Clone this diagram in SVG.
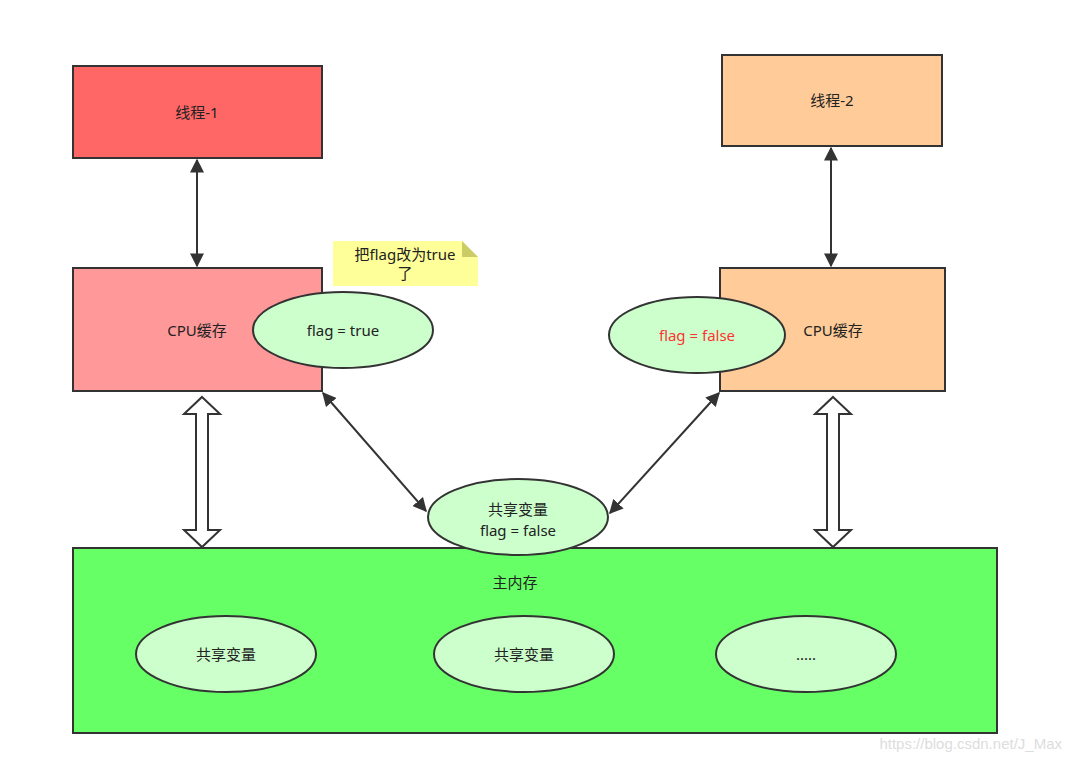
<svg xmlns="http://www.w3.org/2000/svg" width="1072" height="767" viewBox="0 0 1072 767">
<style>
.b{stroke:#333;stroke-width:2}
.e{fill:#ccffcc;stroke:#333;stroke-width:2}
.t{font-family:"Noto Sans","Noto Sans CJK SC",sans-serif;font-size:15px;fill:#222;text-anchor:middle;dominant-baseline:central}
.c{stroke:#333;stroke-width:2;fill:none}
.h{fill:#fff;stroke:#333;stroke-width:2}
</style>
<defs>
<marker id="a" viewBox="0 0 10 10" refX="9" refY="5" markerWidth="7" markerHeight="7" orient="auto-start-reverse"><path d="M0,0 L10,5 L0,10 Z" fill="#333"/></marker>
</defs>
<rect width="1072" height="767" fill="#fff"/>
<g id="main"><rect x="73" y="548" width="924" height="185" fill="#66ff66" class="b"/><text class="t" x="515" y="582">主内存</text></g>
<g id="t1"><rect x="73" y="66" width="249" height="92" fill="#ff6666" class="b"/><text class="t" x="197" y="112">线程-1</text></g>
<g id="t2"><rect x="722" y="55" width="220" height="91" fill="#ffcc99" class="b"/><text class="t" x="832" y="100">线程-2</text></g>
<g id="c1"><rect x="73" y="268" width="249" height="123" fill="#ff9999" class="b"/><text class="t" x="197" y="330" fill="#333">CPU缓存</text></g>
<g id="c2"><rect x="720" y="268" width="225" height="123" fill="#ffcc99" class="b"/><text class="t" x="833" y="330">CPU缓存</text></g>
<g id="note"><path d="M333,241 H462 L478,257 V286 H333 Z" fill="#ffff99"/><path d="M462,241 V257 H478 Z" fill="#cccc66"/><text class="t" x="405" y="254">把flag改为true</text><text class="t" x="405" y="273">了</text></g>
<g id="f1"><ellipse cx="343" cy="330" rx="90" ry="38" class="e"/><text class="t" x="343" y="330">flag = true</text></g>
<g id="f2"><ellipse cx="697" cy="335" rx="88" ry="38" class="e"/><text class="t" x="697" y="335" style="fill:#ff3333">flag = false</text></g>
<g id="s"><ellipse cx="518" cy="517" rx="90" ry="38" class="e"/><text class="t" x="518" y="509">共享变量</text><text class="t" x="518" y="530">flag = false</text></g>
<g id="m1"><ellipse cx="226" cy="654" rx="90" ry="38" class="e"/><text class="t" x="226" y="654">共享变量</text></g>
<g id="m2"><ellipse cx="524" cy="654" rx="90" ry="38" class="e"/><text class="t" x="524" y="654">共享变量</text></g>
<g id="m3"><ellipse cx="806" cy="654" rx="90" ry="38" class="e"/><text class="t" x="806" y="654">.....</text></g>
<g id="connectors">
<line x1="197" y1="160" x2="197" y2="266" class="c" marker-start="url(#a)" marker-end="url(#a)"/>
<line x1="831" y1="148" x2="831" y2="266" class="c" marker-start="url(#a)" marker-end="url(#a)"/>
<line x1="323" y1="393" x2="426" y2="511" class="c" marker-start="url(#a)" marker-end="url(#a)"/>
<line x1="719" y1="393" x2="610" y2="513" class="c" marker-start="url(#a)" marker-end="url(#a)"/>
<path class="h" d="M202,397 L220,414 H208 V530 H220 L202,547 L184,530 H196 V414 H184 Z"/>
<path class="h" d="M833,397 L851,414 H839 V530 H851 L833,547 L815,530 H827 V414 H815 Z"/>
</g>
<text x="1062" y="749" style="font-family:'Liberation Sans',sans-serif;font-size:15px;fill:#ddd;text-anchor:end">https://blog.csdn.net/J_Max</text>
</svg>
